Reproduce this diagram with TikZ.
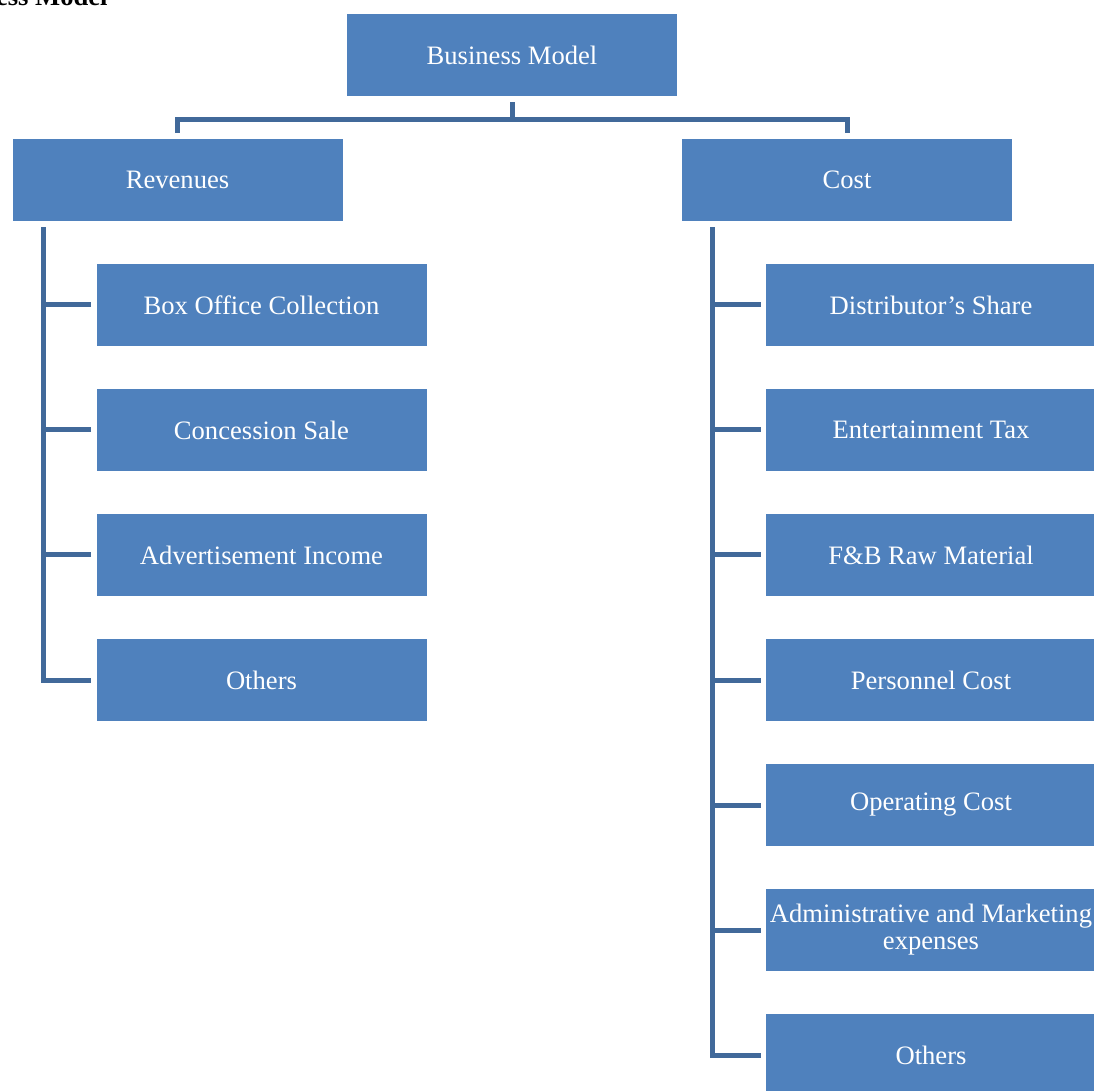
\documentclass[tikz,border=0pt]{standalone}
\usepackage{fontspec}
\setmainfont{Liberation Serif}
\usetikzlibrary{positioning}
\definecolor{boxblue}{HTML}{4F81BD}
\definecolor{lineblue}{HTML}{41699A}
\tikzset{
  item/.style={fill=boxblue, text=white, minimum width=165pt, minimum height=41pt,
    inner sep=1pt, align=center, font=\fontsize{13.3}{13.5}\selectfont},
  link/.style={draw=lineblue, line width=2.5pt}
}

\begin{document}
\begin{tikzpicture}[x=0.5pt, y=-0.5pt]
    \useasboundingbox (0,0) rectangle (1094,1091);
    % heading, cut by the page edge
    \node[anchor=base east, inner sep=0, font=\fontsize{13.3}{13.5}\selectfont\bfseries] (title) at (108,6) {Business Model};

    \node[item] (bm) at (512,55) {Business Model};
    \node[item] (rev) at (177.5,180) {Revenues};
    \node[item] (cost) at (847,180) {Cost};

    \foreach \name [count=\i] in {Box Office Collection, Concession Sale, Advertisement Income, Others} {
      \node[item] (r\i) at (261.5, 180+125*\i) {\name};
    }
    \foreach \name [count=\i] in {Distributor’s Share, Entertainment Tax, F\&B Raw Material, Personnel Cost,
        Operating Cost, {Administrative and Marketing\\expenses}, Others} {
      \node[item] (c\i) at (931, 180+125*\i) {\name};
    }

    % top split
    \coordinate (split) at ([yshift=-11.5pt]bm.south);
    \draw[link] ([yshift=-3pt]bm.south) -- (split);
    \draw[link] ([yshift=3pt]rev.north) |- (split) -| ([yshift=3pt]cost.north);

    % trunks
    \coordinate (rtop) at ([xshift=15.5pt, yshift=-3pt]rev.south west);
    \coordinate (ctop) at ([xshift=15.5pt, yshift=-3pt]cost.south west);
    \draw[link] (rtop) |- ([xshift=-2.5pt]r4.west);
    \draw[link] (ctop) |- ([xshift=-2.5pt]c7.west);
    \foreach \i in {1, ..., 3} {
      \draw[link] ([xshift=-2.5pt]r\i.west) -- (r\i.west -| rtop);
    }
    \foreach \i in {1, ..., 6} {
      \draw[link] ([xshift=-2.5pt]c\i.west) -- (c\i.west -| ctop);
    }
\end{tikzpicture}
\end{document}
